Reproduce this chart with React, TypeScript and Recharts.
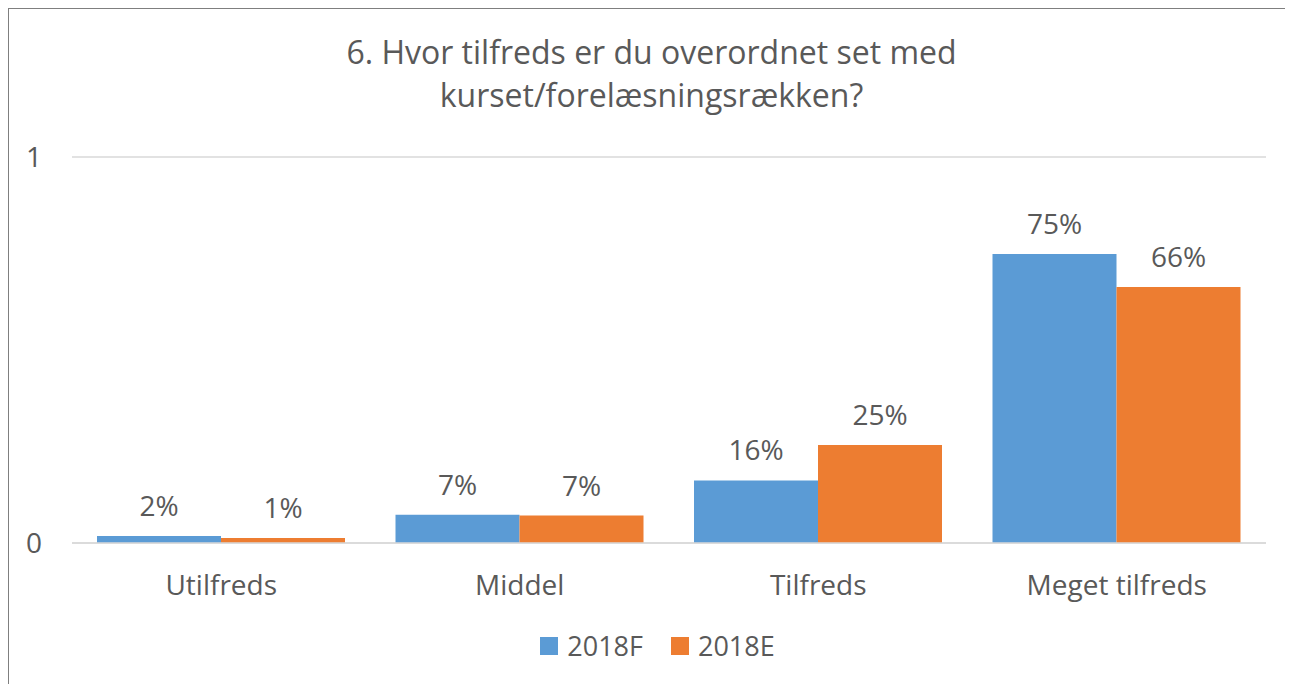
import React from "react";
import { BarChart, Bar, XAxis, YAxis, CartesianGrid, LabelList, Legend } from "recharts";

const categories = ["Utilfreds", "Middel", "Tilfreds", "Meget tilfreds"];
const series2018F = [0.018, 0.073, 0.162, 0.749];
const series2018E = [0.013, 0.071, 0.254, 0.663];
const yTicks = [0, 1];
const titleLines = ["6. Hvor tilfreds er du overordnet set med", "kurset/forelæsningsrækken?"];

const data = categories.map((c, i) => ({ name: c, f: series2018F[i], e: series2018E[i] }));

const FONT = "'Open Sans', sans-serif";
const TEXT = "#595959";
const BLUE = "#5B9BD5";
const ORANGE = "#ED7D31";

const pct = (v: any) => `${Math.round(Number(v) * 100)}%`;

const LegendContent = () => (
  <div style={{ display: "flex", justifyContent: "center", gap: 28, paddingLeft: 40, fontFamily: FONT, fontSize: 27, lineHeight: "38px", color: TEXT }}>
    {[{ c: BLUE, n: "2018F" }, { c: ORANGE, n: "2018E" }].map((it) => (
      <div key={it.n} style={{ display: "flex", alignItems: "center" }}>
        <span style={{ display: "inline-block", width: 18, height: 18, background: it.c, marginRight: 9 }} />
        <span>{it.n}</span>
      </div>
    ))}
  </div>
);

export default function App() {
  return (
    <div
      style={{
        position: "relative",
        width: 1284,
        height: 675,
        borderTop: "1px solid #7f7f7f",
        borderLeft: "1px solid #7f7f7f",
        background: "#fff",
        overflow: "hidden",
      }}
    >
      <div
        style={{
          position: "absolute",
          top: 21,
          left: 0,
          width: 1285,
          textAlign: "center",
          fontFamily: FONT,
          fontSize: 32,
          lineHeight: "43px",
          color: TEXT,
        }}
      >
        {titleLines.map((l) => (
          <div key={l}>{l}</div>
        ))}
      </div>
      <div style={{ position: "absolute", top: 0, left: 0 }}>
        <BarChart
          width={1285}
          height={676}
          data={data}
          margin={{ top: 148, right: 28, bottom: 20, left: 0 }}
          barCategoryGap={25}
          barGap={0}
        >
          <CartesianGrid horizontal vertical={false} stroke="#D9D9D9" strokeWidth={1.5} />
          <XAxis
            dataKey="name"
            axisLine={{ stroke: "#D9D9D9", strokeWidth: 1.5 }}
            tickLine={false}
            tickSize={0}
            tickMargin={32}
            height={84}
            tick={{ fill: TEXT, fontSize: 28, fontFamily: FONT }}
          />
          <YAxis
            domain={[0, 1]}
            ticks={yTicks}
            axisLine={false}
            tickLine={false}
            tickSize={0}
            tickMargin={30}
            width={63}
            tick={{ fill: TEXT, fontSize: 28, fontFamily: FONT }}
          />
          <Legend verticalAlign="bottom" content={<LegendContent />} />
          <Bar dataKey="f" name="2018F" fill={BLUE} isAnimationActive={false}>
            <LabelList dataKey="f" position="top" offset={20} formatter={pct} fill={TEXT} fontSize={28} fontFamily={FONT} />
          </Bar>
          <Bar dataKey="e" name="2018E" fill={ORANGE} isAnimationActive={false}>
            <LabelList dataKey="e" position="top" offset={20} formatter={pct} fill={TEXT} fontSize={28} fontFamily={FONT} />
          </Bar>
        </BarChart>
      </div>
    </div>
  );
}
